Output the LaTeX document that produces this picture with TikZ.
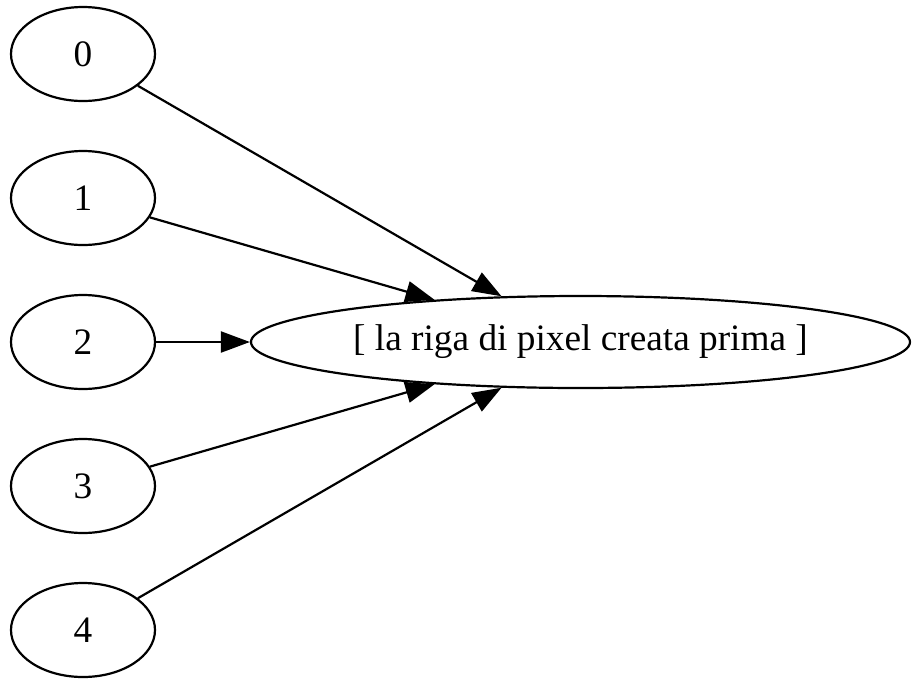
\documentclass[tikz,border=0pt]{standalone}
\usepackage{fontspec}
\setmainfont{Liberation Serif}
\usetikzlibrary{shapes.geometric,arrows.meta}
\begin{document}
\begin{tikzpicture}[x=1pt,y=-1pt,
  smallnode/.style={draw,ellipse,line width=2.2pt,minimum width=144pt,minimum height=94pt,inner sep=0pt,
    font=\fontsize{37.3}{40}\selectfont},
  bignode/.style={draw,ellipse,line width=2.2pt,minimum width=659pt,minimum height=92pt,inner sep=0pt,
    font=\fontsize{37.3}{40}\selectfont},
  edge/.style={draw,line width=2.2pt,-{Triangle[length=29pt,width=21pt]}}]
\useasboundingbox (0,0) rectangle (912,678);
\node[smallnode] (n0) at (83,54) {0};
\node[smallnode] (n1) at (83,198) {1};
\node[smallnode] (n2) at (83,342) {2};
\node[smallnode] (n3) at (83,486) {3};
\node[smallnode] (n4) at (83,630) {4};
\node[bignode] (big) at (580.5,342) {[ la riga di pixel creata prima ]};
\draw[edge] (n0) -- (big);
\draw[edge] (n1) -- (big);
\draw[edge] (n2) -- (big);
\draw[edge] (n3) -- (big);
\draw[edge] (n4) -- (big);
\end{tikzpicture}
\end{document}
